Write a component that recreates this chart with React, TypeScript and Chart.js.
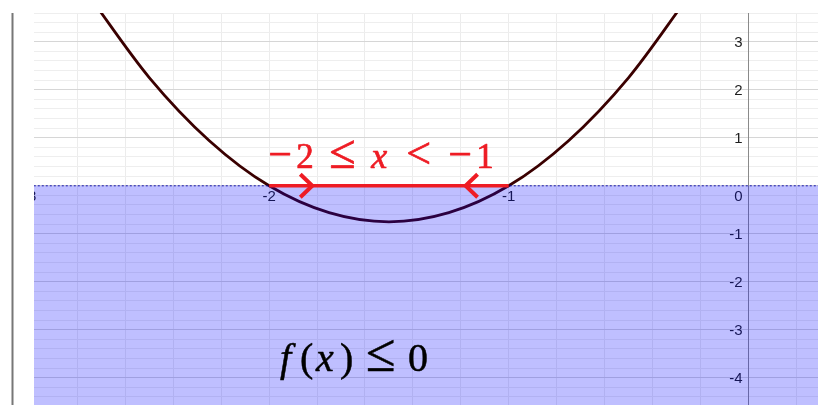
import React, { useEffect, useRef } from 'react';
import { Chart, registerables } from 'chart.js';

Chart.register(...registerables);

// Parabola (x, f(x))
const curveX = [-2.75, -2.5, -2.25, -2, -1.75, -1.5, -1.25, -1, -0.75, -0.5, -0.25];
const curveY = [3.94, 2.25, 0.94, 0, -0.56, -0.75, -0.56, 0, 0.94, 2.25, 3.94];

// Shaded half-plane y <= 0
const regionX = [-3.2, 0.5];
const regionY = [0, 0];

// Solution interval on the x axis
const segmentX = [-2, -1];
const segmentY = [0, 0];
const arrowX = [-1.82, -1.18];
const arrowDir = [1, -1];

// Tick labels
const xTickValues = [-3, -2, -1];
const xTickLabels = ['-3', '-2', '-1'];
const yTickValues = [3, 2, 1, -1, -2, -3, -4];
const yTickLabels = ['3', '2', '1', '-1', '-2', '-3', '-4'];
const originLabel = '0';

const X_MIN = -2.982;
const X_MAX = 0.2915;
const Y_MAX = 3.6;
const Y_MIN = -4.5667;

const RED = 'rgb(238,28,36)';
const SERIF = '"Liberation Serif", "DejaVu Serif", serif';

const isInt = (v: number) => Math.abs(v - Math.round(v)) < 1e-6;

const overlayPlugin = {
  id: 'overlay',
  beforeDatasetsDraw(chart: any) {
    const { ctx, chartArea, scales } = chart;
    const xs = scales.x;
    const ys = scales.y;
    ctx.save();
    // y axis line
    const x0 = Math.round(xs.getPixelForValue(0)) + 0.5;
    ctx.strokeStyle = '#8a8a8a';
    ctx.lineWidth = 1;
    ctx.beginPath();
    ctx.moveTo(x0, chartArea.top);
    ctx.lineTo(x0, chartArea.bottom);
    ctx.stroke();

    ctx.beginPath();
    ctx.rect(chartArea.left, chartArea.top, chartArea.right - chartArea.left, chartArea.bottom - chartArea.top);
    ctx.clip();
    ctx.fillStyle = '#1e1e1e';
    ctx.font = '15px "Liberation Sans", Arial, sans-serif';
    ctx.textBaseline = 'middle';
    const y0 = ys.getPixelForValue(0);
    ctx.textAlign = 'center';
    xTickValues.forEach((v, i) => {
      ctx.fillText(xTickLabels[i], xs.getPixelForValue(v), y0 + 11.5);
    });
    ctx.textAlign = 'right';
    yTickValues.forEach((v, i) => {
      ctx.fillText(yTickLabels[i], x0 - 6, ys.getPixelForValue(v) + 1);
    });
    ctx.fillText(originLabel, x0 - 6, y0 + 11.5);
    ctx.restore();
  },
  afterDatasetsDraw(chart: any) {
    const { ctx, chartArea, scales } = chart;
    const xs = scales.x;
    const ys = scales.y;
    ctx.save();
    const y0 = ys.getPixelForValue(0);
    // arrow chevrons on the interval
    ctx.strokeStyle = RED;
    ctx.lineWidth = 4;
    ctx.lineJoin = 'miter';
    arrowX.forEach((v, i) => {
      const ax = xs.getPixelForValue(v);
      const d = arrowDir[i];
      ctx.beginPath();
      ctx.moveTo(ax - d * 12, y0 - 11.5);
      ctx.lineTo(ax, y0);
      ctx.lineTo(ax - d * 12, y0 + 11.5);
      ctx.stroke();
    });

    ctx.textBaseline = 'alphabetic';
    ctx.textAlign = 'left';
    ctx.lineWidth = 0.7;
    ctx.lineJoin = 'round';

    // interval text
    const bx = xs.getPixelForValue(-2);
    const by = ys.getPixelForValue(0.37);
    ctx.fillStyle = RED;
    ctx.strokeStyle = RED;
    const parts1: [string, number, string][] = [
      ['\u2212', -1, `42px ${SERIF}`],
      ['2', 27, `35px ${SERIF}`],
      ['\u2264', 60, `48px ${SERIF}`],
      ['x', 102, `italic 36px ${SERIF}`],
      ['<', 137, `44px ${SERIF}`],
      ['\u2212', 179, `42px ${SERIF}`],
      ['1', 207, `35px ${SERIF}`],
    ];
    parts1.forEach(([t, off, f]) => {
      ctx.font = f;
      ctx.fillText(t, bx + off, by);
      ctx.strokeText(t, bx + off, by);
    });

    // f(x) <= 0 text
    const fx = xs.getPixelForValue(-1.955);
    const fy = ys.getPixelForValue(-3.855);
    ctx.fillStyle = '#000';
    ctx.strokeStyle = '#000';
    ctx.lineWidth = 0.5;
    const parts2: [string, number, string][] = [
      ['f', 0, `italic 40px ${SERIF}`],
      ['(', 20, `40px ${SERIF}`],
      ['x', 36, `italic 40px ${SERIF}`],
      [')', 60, `40px ${SERIF}`],
      ['\u2264', 86, `54px ${SERIF}`],
      ['0', 128, `40px ${SERIF}`],
    ];
    parts2.forEach(([t, off, f]) => {
      ctx.font = f;
      ctx.fillText(t, fx + off, fy);
      ctx.strokeText(t, fx + off, fy);
    });

    // left frame line
    ctx.strokeStyle = '#777';
    ctx.lineWidth = 2;
    ctx.beginPath();
    ctx.moveTo(12.5, chartArea.top);
    ctx.lineTo(12.5, chartArea.bottom);
    ctx.stroke();
    ctx.restore();
  },
};

export default function App() {
  const ref = useRef<HTMLCanvasElement | null>(null);
  useEffect(() => {
    document.body.style.margin = '0';
    const canvas = ref.current!;
    const toPts = (xs: number[], ys: number[]) => xs.map((x, i) => ({ x, y: ys[i] }));
    const chart = new Chart(canvas, {
      type: 'scatter',
      data: {
        datasets: [
          {
            data: toPts(segmentX, segmentY),
            showLine: true,
            borderColor: RED,
            borderWidth: 3.5,
            pointRadius: 0,
            fill: false,
          },
          {
            data: toPts(regionX, regionY),
            showLine: true,
            borderColor: 'rgba(0,0,170,0.9)',
            borderWidth: 1,
            borderDash: [2, 2],
            backgroundColor: 'rgba(0,0,255,0.25)',
            pointRadius: 0,
            fill: 'start',
          },
          {
            data: toPts(curveX, curveY),
            showLine: true,
            borderColor: '#3a0000',
            borderWidth: 2.8,
            pointRadius: 0,
            cubicInterpolationMode: 'monotone',
            fill: false,
          },
        ],
      } as any,
      options: {
        responsive: false,
        animation: false,
        devicePixelRatio: 1,
        events: [],
        layout: { padding: { left: 34, top: 13, right: 0, bottom: 0 } },
        plugins: { legend: { display: false }, tooltip: { enabled: false } },
        scales: {
          x: {
            type: 'linear',
            min: X_MIN,
            max: X_MAX,
            ticks: { display: false, stepSize: 0.2, includeBounds: false },
            grid: { color: '#ececec', drawTicks: false, lineWidth: 1 },
            border: { display: false },
          },
          y: {
            type: 'linear',
            min: Y_MIN,
            max: Y_MAX,
            ticks: { display: false, stepSize: 0.2, includeBounds: false },
            grid: {
              color: (c: any) => (c.tick && isInt(c.tick.value) ? '#d6d6d6' : '#eeeeee'),
              drawTicks: false,
              lineWidth: 1,
            },
            border: { display: false },
          },
        },
      } as any,
      plugins: [overlayPlugin],
    });
    return () => chart.destroy();
  }, []);
  return (
    <div style={{ position: 'absolute', left: 0, top: 0, width: 818, height: 405 }}>
      <canvas ref={ref} width={818} height={405} />
    </div>
  );
}
